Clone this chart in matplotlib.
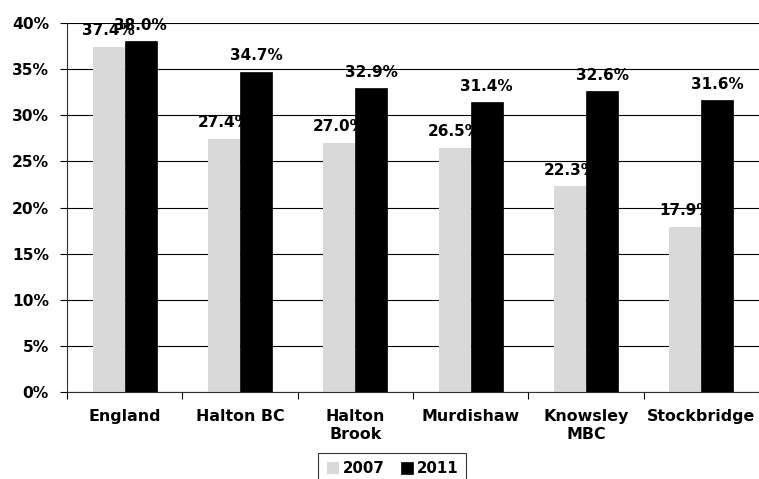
import numpy as np
import matplotlib
matplotlib.use("Agg")
import matplotlib.pyplot as plt
from matplotlib.ticker import FixedLocator, FuncFormatter

plt.rcParams['font.family'] = ['DejaVu Sans']
plt.rcParams['font.weight'] = 'bold'

categories = ["England", "Halton BC", "Halton\nBrook", "Murdishaw", "Knowsley\nMBC", "Stockbridge"]
years = ["2007", "2011"]
vals_2007 = [37.4, 27.4, 27.0, 26.5, 22.3, 17.9]
vals_2011 = [38.0, 34.7, 32.9, 31.4, 32.6, 31.6]

fig = plt.figure(figsize=(7.59, 4.79), dpi=100)
ax = fig.add_axes([67 / 759, 1 - 392 / 479, 1 - 67 / 759, (392 - 23) / 479])

x = np.arange(len(categories))
w = 0.278
b1 = ax.bar(x - w / 2, vals_2007, w, color="#d9d9d9", label=years[0], zorder=2)
b2 = ax.bar(x + w / 2, vals_2011, w, color="black", edgecolor="black", linewidth=0.5, label=years[1], zorder=2)

# value labels above each bar
for bars, vals in ((b1, vals_2007), (b2, vals_2011)):
    for r, v in zip(bars, vals):
        ax.text(r.get_x() + r.get_width() / 2, v + 0.95, f"{v:.1f}%", ha="center", va="bottom",
                fontsize=11, fontweight="bold", zorder=3)

ax.set_xlim(-0.5, len(categories) - 0.5)
ax.set_ylim(0, 40)
ax.set_yticks(np.arange(0, 41, 5))
ax.yaxis.set_major_formatter(FuncFormatter(lambda v, p: f"{v:.0f}%"))
ax.yaxis.grid(True, color="black", linewidth=0.8, zorder=0)
ax.set_axisbelow(True)

ax.set_xticks(x)
ax.set_xticklabels(categories, fontsize=11.4, fontweight="bold", linespacing=1.3)
ax.xaxis.set_minor_locator(FixedLocator(np.arange(-0.5, len(categories), 1.0)))
ax.tick_params(axis="x", which="major", length=0, pad=12)
ax.tick_params(axis="x", which="minor", length=5, width=0.8, direction="out")
ax.tick_params(axis="y", length=5, width=0.8, pad=8, labelsize=11.2)
for lab in ax.get_yticklabels():
    lab.set_fontweight("bold")

ax.spines["top"].set_visible(False)
ax.spines["right"].set_visible(False)
ax.spines["left"].set_color("#303030")
ax.spines["bottom"].set_color("#303030")

leg = fig.legend(loc="upper center", bbox_to_anchor=(0.517, 1 - 453 / 479), ncol=2,
                 frameon=True, fancybox=False, edgecolor="black", fontsize=10.8,
                 handlelength=0.8, handleheight=0.8, handletextpad=0.25, columnspacing=1.1,
                 borderpad=0.55, borderaxespad=0)
leg.get_frame().set_linewidth(0.8)
for t in leg.get_texts():
    t.set_fontweight("bold")

fig.savefig("out.png", dpi=100)
